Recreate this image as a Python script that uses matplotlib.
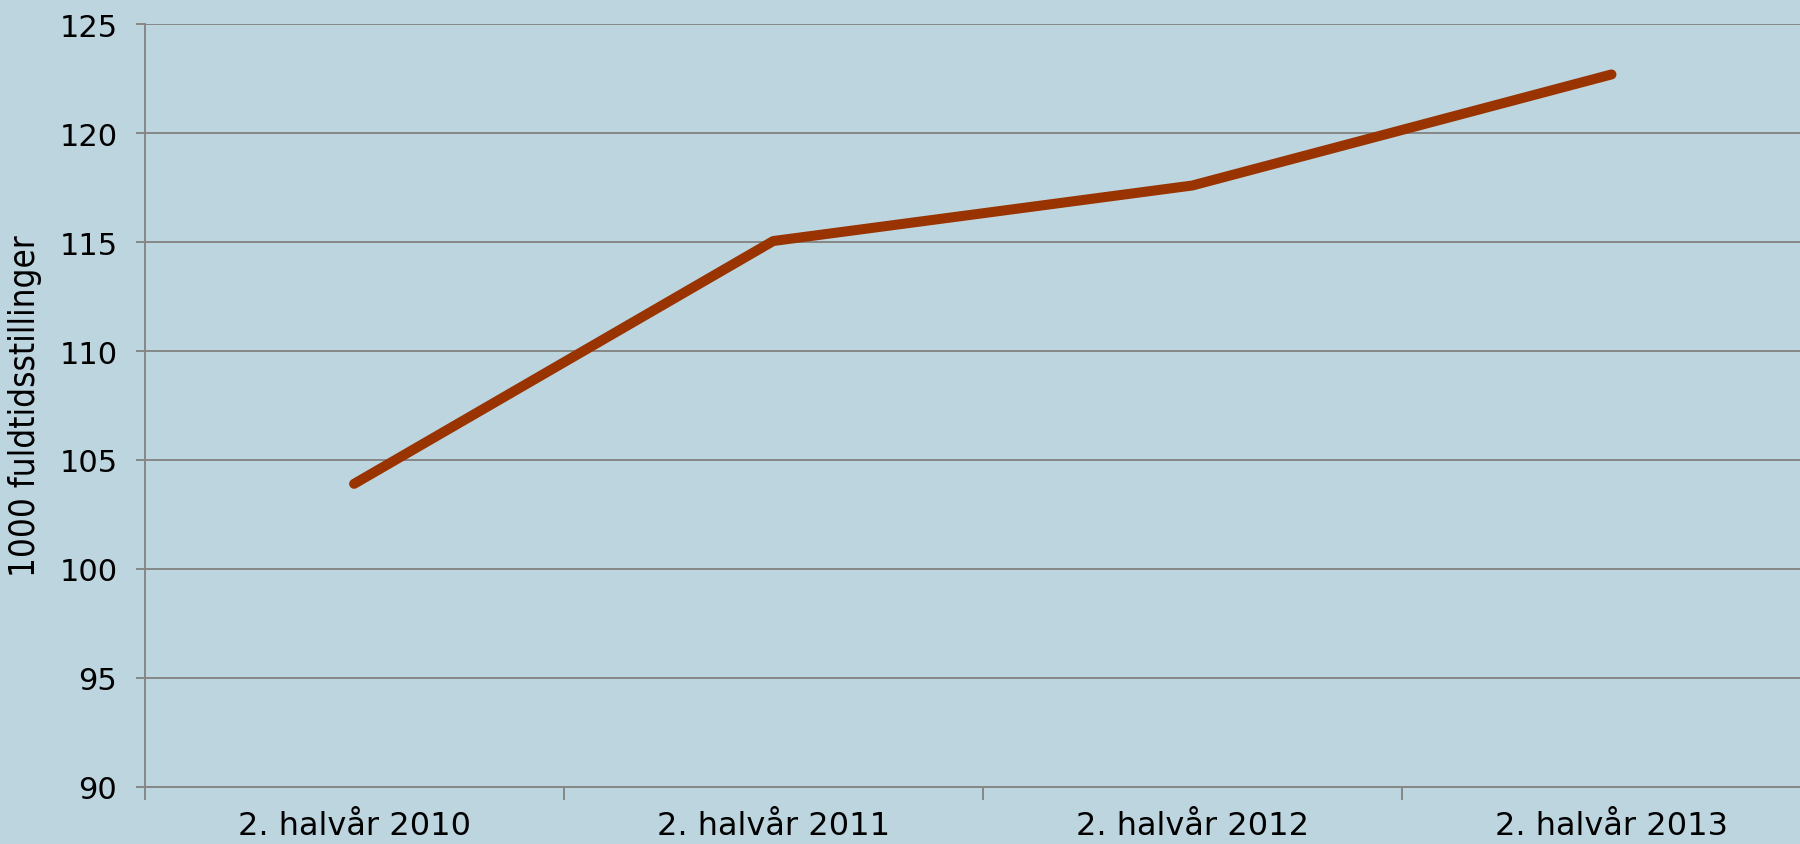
import matplotlib
matplotlib.use("Agg")
import matplotlib.pyplot as plt
from matplotlib.ticker import FixedLocator, NullFormatter, FixedFormatter

categories = ["2. halvår 2010", "2. halvår 2011", "2. halvår 2012", "2. halvår 2013"]
values = [103.9, 115.05, 117.6, 122.7]
yticks = [90, 95, 100, 105, 110, 115, 120, 125]

bg = "#BDD5DF"
grid_c = "#868686"
line_c = "#993300"

fig = plt.figure(figsize=(18, 8.45), dpi=100, facecolor=bg)
ax = fig.add_axes([0.0803, 0.068, 0.9314, 0.902])
ax.set_facecolor(bg)

x = list(range(len(categories)))
ax.plot(x, values, color=line_c, lw=7.2, solid_capstyle="round", solid_joinstyle="round", zorder=3)

ax.set_xlim(-0.5, len(categories) - 0.5)
ax.set_ylim(90, 125)
ax.set_yticks(yticks)
ax.yaxis.grid(True, color=grid_c, lw=1.4)
ax.set_axisbelow(True)

for s in ["top", "right"]:
    ax.spines[s].set_visible(False)
for s in ["left", "bottom"]:
    ax.spines[s].set_color(grid_c)
    ax.spines[s].set_linewidth(1.4)

ax.tick_params(axis="y", length=6.6, width=1.4, color=grid_c, pad=13, labelsize=22, labelcolor="black")
ax.xaxis.set_major_locator(FixedLocator([i - 0.5 for i in range(len(categories) + 1)]))
ax.xaxis.set_major_formatter(NullFormatter())
ax.xaxis.set_minor_locator(FixedLocator(x))
ax.xaxis.set_minor_formatter(FixedFormatter(categories))
ax.tick_params(axis="x", which="major", length=9, width=1.4, color=grid_c)
ax.tick_params(axis="x", which="minor", length=0, pad=17, labelsize=23, labelcolor="black")

ax.set_ylabel("1000 fuldtidsstillinger", fontsize=25, family="DejaVu Sans", fontstretch="condensed")
ax.yaxis.set_label_coords(-0.061, 0.5)

fig.savefig("out.png", dpi=100, facecolor=bg)
